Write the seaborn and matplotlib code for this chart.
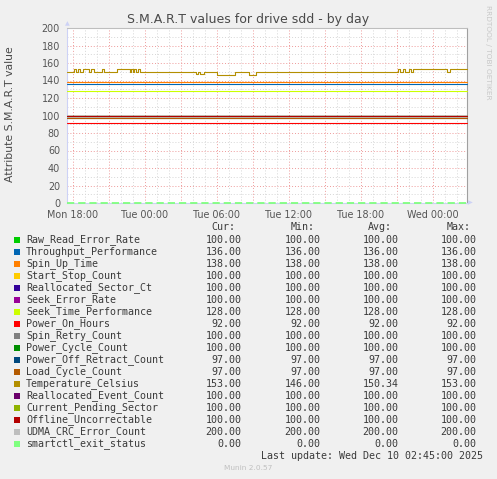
import pandas as pd
import matplotlib
matplotlib.use('Agg')
import matplotlib.pyplot as plt
import matplotlib.dates as mdates
from matplotlib.ticker import MultipleLocator, FuncFormatter
from matplotlib.patches import Rectangle
import seaborn as sns

# S.M.A.R.T attributes, munin colours and legend values
names = ['Raw_Read_Error_Rate', 'Throughput_Performance', 'Spin_Up_Time', 'Start_Stop_Count',
         'Reallocated_Sector_Ct', 'Seek_Error_Rate', 'Seek_Time_Performance', 'Power_On_Hours',
         'Spin_Retry_Count', 'Power_Cycle_Count', 'Power_Off_Retract_Count', 'Load_Cycle_Count',
         'Temperature_Celsius', 'Reallocated_Event_Count', 'Current_Pending_Sector',
         'Offline_Uncorrectable', 'UDMA_CRC_Error_Count', 'smartctl_exit_status']
colors = ['#00CC00', '#0066B3', '#FF8000', '#FFCC00', '#330099', '#990099', '#CCFF00', '#FF0000',
          '#808080', '#008F00', '#00487D', '#B35A00', '#B38F00', '#6B006B', '#8FB300',
          '#B30000', '#BEBEBE', '#80FF80']
cur = [100, 136, 138, 100, 100, 100, 128, 92, 100, 100, 97, 97, 153, 100, 100, 100, 200, 0]
mins = [100, 136, 138, 100, 100, 100, 128, 92, 100, 100, 97, 97, 146, 100, 100, 100, 200, 0]
avgs = [100, 136, 138, 100, 100, 100, 128, 92, 100, 100, 97, 97, 150.34, 100, 100, 100, 200, 0]
maxs = [100, 136, 138, 100, 100, 100, 128, 92, 100, 100, 97, 97, 153, 100, 100, 100, 200, 0]

# temperature changes: minutes after the first sample, new value
temp_minutes = [0, 35, 45, 55, 65, 80, 110, 120, 135, 175, 185, 250, 315, 320, 330, 335, 345,
                355, 365, 645, 655, 665, 685, 750, 840, 910, 945, 1655, 1665, 1680, 1690, 1710,
                1720, 1730, 1900, 1915]
temp_values = [150, 153, 150, 153, 150, 153, 150, 153, 150, 153, 150, 153, 150, 153, 150, 153, 150,
               153, 150, 147, 150, 147, 150, 146, 150, 146, 150, 153, 150, 153, 150, 153,
               150, 153, 150, 153]

start = pd.Timestamp('2025-12-08 17:30')
n_samples = 401
last_update = 'Last update: Wed Dec 10 02:45:00 2025'

times = pd.date_range(start, periods=n_samples, freq='5min')
temp = pd.Series(temp_values, index=start + pd.to_timedelta(temp_minutes, unit='min'))
temp = temp.reindex(times, method='ffill')

frames = []
for name, value in zip(names, cur):
    vals = temp.values if name == 'Temperature_Celsius' else [value] * n_samples
    frames.append(pd.DataFrame({'time': times, 'value': vals, 'name': name}))
df = pd.concat(frames, ignore_index=True)

sns.set_style('white')
plt.rcParams['font.family'] = ['DejaVu Sans']

W, H = 497, 479
fig = plt.figure(figsize=(W / 100, H / 100), dpi=100, facecolor='#F0F0F0')
ax = fig.add_axes([67 / W, 1 - 203 / H, 400 / W, 175 / H])
ax.set_facecolor('white')

sns.lineplot(data=df, x='time', y='value', hue='name', hue_order=names,
             palette=dict(zip(names, colors)), estimator=None, legend=False,
             lw=0.8, drawstyle='steps-post', ax=ax)
for line in ax.lines:
    line.set_clip_on(False)
    line.set_zorder(3)
ax.lines[-1].set_linestyle((0, (4, 2.2)))
ax.lines[-1].set_linewidth(1.3)

ax.set_xlim(times[0], times[-1])
ax.set_ylim(0, 200)
ax.set_xlabel('')
ax.set_ylabel('')

ax.xaxis.set_major_locator(mdates.HourLocator(byhour=range(0, 24, 3)))
ax.xaxis.set_minor_locator(mdates.HourLocator())
ax.xaxis.set_major_formatter(FuncFormatter(
    lambda x, pos: mdates.num2date(x).strftime('%a %H:%M') if mdates.num2date(x).hour % 6 == 0 else ''))
ax.yaxis.set_major_locator(MultipleLocator(20))
ax.yaxis.set_minor_locator(MultipleLocator(10))

ax.set_axisbelow(True)
ax.grid(which='minor', color='#D6D6D6', ls=(0, (1, 2)), lw=0.7)
ax.grid(which='major', color='#EE9A9A', ls=(0, (1, 2)), lw=0.7)
ax.tick_params(which='major', length=2, width=0.6, color='#E8A0A0', labelsize=6.9,
               labelcolor='#555555', pad=3)
ax.tick_params(which='minor', length=0)

ax.spines['top'].set_visible(False)
ax.spines['right'].set_color('#A0A0A0')
ax.spines['left'].set_color('#CDD2F6')
ax.spines['bottom'].set_color('#CDD2F6')
for s in ax.spines.values():
    s.set_linewidth(0.8)

# axis arrows
fig.text(67 / W, 1 - 24 / H, '\u25B2', color='#CDD2F6', fontsize=4.5, ha='center', va='center')
fig.text(470 / W, 1 - 203 / H, '\u25B6', color='#CDD2F6', fontsize=4.5, ha='center', va='center')

txt = '#3a3a3a'
fig.text(248 / W, 1 - 19 / H, 'S.M.A.R.T values for drive sdd - by day', ha='center', va='center',
         fontsize=9.0, color='#4a4a4a')
fig.text(10 / W, 1 - 114 / H, 'Attribute S.M.A.R.T value', rotation=90, ha='center', va='center',
         fontsize=7.8, color='#4a4a4a')
fig.text(488 / W, 1 - 5 / H, 'RRDTOOL / TOBI OETIKER', rotation=270, ha='center', va='top',
         fontsize=5.3, color='#C8C8C8')

mono = 'DejaVu Sans Mono'
col_right = [241.7, 320.7, 398.3, 476.7]
for x, head in zip(col_right, ['Cur:', 'Min:', 'Avg:', 'Max:']):
    fig.text((x - 6) / W, 1 - 227 / H, head, ha='right', va='center', family=mono, fontsize=7.2, color=txt)

for i, name in enumerate(names):
    y = 240 + 12 * i
    fig.patches.append(Rectangle((14 / W, 1 - (y + 3) / H), 6 / W, 6 / H,
                                 transform=fig.transFigure, color=colors[i], lw=0))
    fig.text(26 / W, 1 - y / H, name, ha='left', va='center', family=mono, fontsize=7.2, color=txt)
    for x, v in zip(col_right, [cur[i], mins[i], avgs[i], maxs[i]]):
        fig.text(x / W, 1 - y / H, f'{v:.2f}', ha='right', va='center', family=mono,
                 fontsize=7.2, color=txt)

fig.text(482.7 / W, 1 - 455.7 / H, last_update, ha='right', va='center', family=mono,
         fontsize=7.2, color=txt)
fig.text(248 / W, 1 - 467.7 / H, 'Munin 2.0.57', ha='center', va='center', fontsize=5.3,
         color='#C0C0C0')

fig.savefig('out.png', dpi=100, facecolor=fig.get_facecolor())
